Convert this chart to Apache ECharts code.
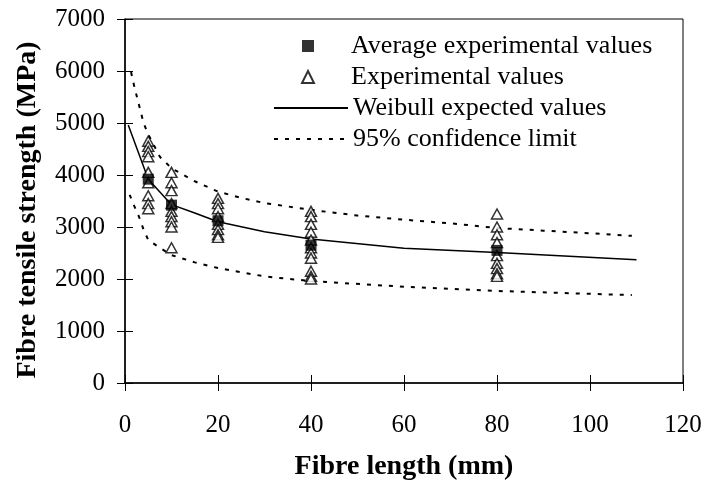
<!DOCTYPE html>
<html>
<head>
<meta charset="utf-8">
<script src="https://cdn.jsdelivr.net/npm/echarts@6/dist/echarts.min.js"></script>
<style>
  html, body { margin: 0; padding: 0; background: #fff; }
</style>
</head>
<body>
<div id="chart" style="width: 707px; height: 486px;"></div>
<script>
// fibre lengths tested (mm)
const lengths = [5, 10, 20, 40, 80];
// average strength at each length (MPa)
const avgStrength = [3920, 3420, 3120, 2650, 2550];
// single experimental values, one list per length
const exp5 = [4650, 4550, 4450, 4350, 4050, 3850, 3600, 3450, 3350];
const exp10 = [4050, 3850, 3700, 3450, 3300, 3200, 3100, 3000, 2600];
const exp20 = [3550, 3450, 3350, 3200, 3050, 2950, 2850, 2800];
const exp40 = [3300, 3200, 3050, 2900, 2750, 2600, 2500, 2400, 2150, 2050, 2000];
const exp80 = [3250, 3000, 2850, 2700, 2450, 2300, 2200, 2100, 2050];

// Weibull expected curve
const weibullX = [0.7, 5, 10, 15, 20, 30, 40, 60, 80, 110];
const weibullY = [4960, 3920, 3430, 3270, 3100, 2910, 2770, 2590, 2510, 2370];
// 95% confidence limits
const upperX = [1.3, 2, 3, 4, 5, 7.5, 10, 15, 20, 25, 30, 40, 50, 60, 70, 80, 90, 100, 109];
const upperY = [5980, 5700, 5350, 5000, 4780, 4350, 4130, 3880, 3680, 3560, 3460, 3330, 3220, 3140, 3070, 2980, 2930, 2880, 2830];
const lowerX = [1, 2, 3, 4, 5, 7.5, 10, 15, 20, 30, 40, 60, 80, 109];
const lowerY = [3620, 3400, 3200, 2950, 2750, 2600, 2460, 2320, 2210, 2050, 1960, 1850, 1770, 1690];

const xTicks = [0, 20, 40, 60, 80, 100, 120];
const yTicks = [0, 1000, 2000, 3000, 4000, 5000, 6000, 7000];

const font = 'Liberation Serif';
const expLists = [exp5, exp10, exp20, exp40, exp80];

const expData = [];
expLists.forEach((list, i) => {
  list.forEach(v => expData.push([lengths[i], v]));
});
const avgData = lengths.map((x, i) => [x, avgStrength[i]]);
const pairs = (xs, ys) => xs.map((x, i) => [x, ys[i]]);

const myChart = echarts.init(document.getElementById('chart'));

const baseX = {
  type: 'value',
  position: 'bottom',
  min: xTicks[0],
  max: xTicks[xTicks.length - 1],
  interval: 20,
  splitLine: { show: false },
};
const baseY = {
  type: 'value',
  position: 'left',
  min: yTicks[0],
  max: yTicks[yTicks.length - 1],
  interval: 1000,
  splitLine: { show: false },
};

const noSymbol = { color: 'rgba(0,0,0,0)', borderWidth: 0, opacity: 0 };
const legendText = { fontFamily: font, fontSize: 26, color: '#000' };

const option = {
  animation: false,
  backgroundColor: '#fff',
  grid: {
    left: 125,
    right: 24,
    top: 19,
    bottom: 103,
    show: true,
    borderColor: '#000',
    borderWidth: 1,
  },
  legend: [
    {
      // marker entries, small icons
      orient: 'vertical',
      left: 296,
      top: 28,
      itemWidth: 12,
      itemHeight: 12,
      itemGap: 5,
      data: [
        { name: 'Average experimental values', icon: 'rect' },
        { name: 'Experimental values', icon: 'triangle' },
      ],
      textStyle: Object.assign({ padding: [0, 0, 0, 32] }, legendText),
    },
    {
      // line entries
      orient: 'vertical',
      left: 268,
      top: 90,
      itemWidth: 74,
      itemHeight: 12,
      itemGap: 5,
      data: [
        { name: 'Weibull expected values', itemStyle: noSymbol },
        { name: '95% confidence limit', itemStyle: noSymbol },
      ],
      textStyle: legendText,
    },
  ],
  xAxis: [
    Object.assign({}, baseX, {
      name: 'Fibre length (mm)',
      nameLocation: 'middle',
      nameGap: 70,
      nameTextStyle: { fontFamily: font, fontSize: 28, fontWeight: 'bold', color: '#000' },
      axisLine: { lineStyle: { color: '#000', width: 1.5 } },
      axisTick: { show: true, inside: false, length: 8, lineStyle: { color: '#000' } },
      axisLabel: { margin: 30, fontFamily: font, fontSize: 25, color: '#000' },
    }),
    Object.assign({}, baseX, {
      axisLine: { show: false },
      axisTick: { show: true, inside: true, length: 8, lineStyle: { color: '#000' } },
      axisLabel: { show: false },
    }),
  ],
  yAxis: [
    Object.assign({}, baseY, {
      name: 'Fibre tensile strength (MPa)',
      nameLocation: 'middle',
      nameGap: 83,
      nameTextStyle: { fontFamily: font, fontSize: 28, fontWeight: 'bold', color: '#000', padding: [0, 18, 0, 0] },
      axisLine: { lineStyle: { color: '#000', width: 1.5 } },
      axisTick: { show: true, inside: false, length: 8, lineStyle: { color: '#000' } },
      axisLabel: { margin: 20, fontFamily: font, fontSize: 25, color: '#000', formatter: v => String(v) },
    }),
    Object.assign({}, baseY, {
      axisLine: { show: false },
      axisTick: { show: true, inside: true, length: 8, lineStyle: { color: '#000' } },
      axisLabel: { show: false },
    }),
  ],
  series: [
    {
      name: 'Weibull expected values',
      type: 'line',
      data: pairs(weibullX, weibullY),
      symbol: 'none',
      itemStyle: { color: '#000' },
      lineStyle: { color: '#000', width: 1.5 },
      z: 2,
    },
    {
      name: '95% confidence limit',
      type: 'line',
      data: pairs(upperX, upperY),
      symbol: 'none',
      itemStyle: { color: '#000' },
      lineStyle: { color: '#000', width: 2, type: [4, 7] },
      z: 2,
    },
    {
      name: '95% confidence limit',
      type: 'line',
      data: pairs(lowerX, lowerY),
      symbol: 'none',
      itemStyle: { color: '#000' },
      lineStyle: { color: '#000', width: 2, type: [4, 7] },
      z: 2,
    },
    {
      name: 'Experimental values',
      type: 'scatter',
      data: expData,
      symbol: 'triangle',
      symbolSize: [11, 10],
      itemStyle: { color: '#fff', borderColor: '#000', borderWidth: 1.5 },
      z: 3,
    },
    {
      name: 'Average experimental values',
      type: 'scatter',
      data: avgData,
      symbol: 'rect',
      symbolSize: 11,
      itemStyle: { color: '#000' },
      z: 4,
    },
  ],
};

myChart.setOption(option);
</script>
</body>
</html>
